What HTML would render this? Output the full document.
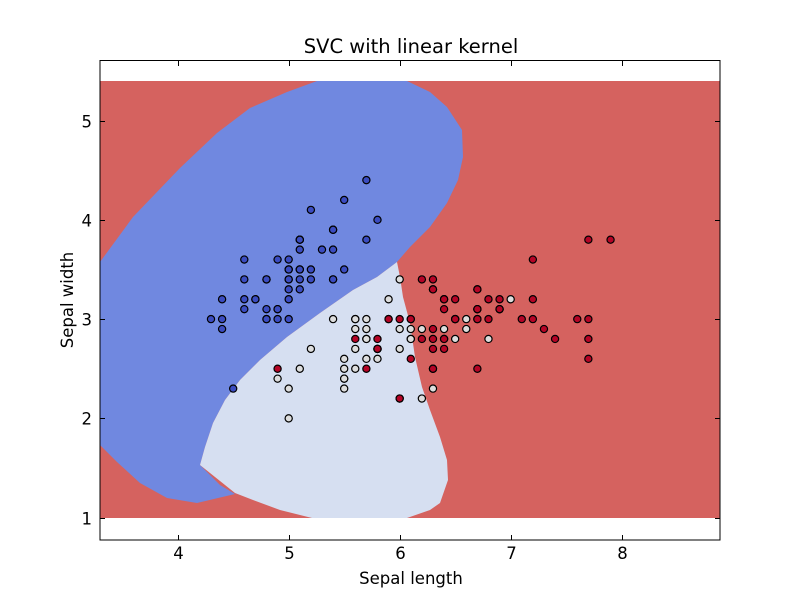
<!DOCTYPE html>
<html><head><meta charset="utf-8"><style>
body{margin:0;background:#fff}
svg text{font-family:"DejaVu Sans","Liberation Sans",sans-serif;fill:#000}
</style></head><body>
<svg id="chart" width="800" height="600" xmlns="http://www.w3.org/2000/svg">
<rect width="800" height="600" fill="#fff"/>
<g>
<rect x="100" y="81" width="620" height="437" fill="#d5625f"/>
<path fill="#7088e0" d="M317,81 L407,81 L430,92 L447,107 L462,130 L463,157 L458,180 L447,203 L430,227 L410,247 L397,262 L377,277 L353,290 L320,313 L287,337 L260,360 L240,380 L225,400 L213,423 L205,447 L200,465 L220,485 L235,494 L197,503 L167,498 L140,483 L117,462 L100,445 L100,262 L133,217 L180,168 L217,133 L250,108 L287,92 Z"/>
<path fill="#d6dff1" d="M397,262 L400,277 L403,297 L410,323 L415,357 L422,387 L430,410 L440,437 L447,460 L448,480 L440,503 L430,510 L407,518 L312,518 L280,510 L253,500 L235,493 L210,473 L200,465 L205,447 L213,423 L225,400 L240,380 L260,360 L287,337 L320,313 L353,290 L377,277 Z"/>
</g>
<g id="points"></g>
<rect x="100" y="60.5" width="620" height="479.5" fill="none" stroke="#000" stroke-width="1"/>
<g id="axes"></g>
<text x="411" y="53" font-size="19.5" text-anchor="middle">SVC with linear kernel</text>
<text x="411" y="584" font-size="16.5" text-anchor="middle">Sepal length</text>
<text x="73" y="300" font-size="16.5" text-anchor="middle" transform="rotate(-90 73 300)">Sepal width</text>
</svg>
<script>
const xTicks=[4,5,6,7,8];
const yTicks=[1,2,3,4,5];
const setosaX=[5.1,4.9,4.7,4.6,5.0,5.4,4.6,5.0,4.4,4.9,5.4,4.8,4.8,4.3,5.8,5.7,5.4,5.1,5.7,5.1,5.4,5.1,4.6,5.1,4.8,5.0,5.0,5.2,5.2,4.7,4.8,5.4,5.2,5.5,4.9,5.0,5.5,4.9,4.4,5.1,5.0,4.5,4.4,5.0,5.1,4.8,5.1,4.6,5.3,5.0];
const setosaY=[3.5,3.0,3.2,3.1,3.6,3.9,3.4,3.4,2.9,3.1,3.7,3.4,3.0,3.0,4.0,4.4,3.9,3.5,3.8,3.8,3.4,3.7,3.6,3.3,3.4,3.0,3.4,3.5,3.4,3.2,3.1,3.4,4.1,4.2,3.1,3.2,3.5,3.6,3.0,3.4,3.5,2.3,3.2,3.5,3.8,3.0,3.8,3.2,3.7,3.3];
const versicolorX=[7.0,6.4,6.9,5.5,6.5,5.7,6.3,4.9,6.6,5.2,5.0,5.9,6.0,6.1,5.6,6.7,5.6,5.8,6.2,5.6,5.9,6.1,6.3,6.1,6.4,6.6,6.8,6.7,6.0,5.7,5.5,5.5,5.8,6.0,5.4,6.0,6.7,6.3,5.6,5.5,5.5,6.1,5.8,5.0,5.6,5.7,5.7,6.2,5.1,5.7];
const versicolorY=[3.2,3.2,3.1,2.3,2.8,2.8,3.3,2.4,2.9,2.7,2.0,3.0,2.2,2.9,2.9,3.1,3.0,2.7,2.2,2.5,3.2,2.8,2.5,2.8,2.9,3.0,2.8,3.0,2.9,2.6,2.4,2.4,2.7,2.7,3.0,3.4,3.1,2.3,3.0,2.5,2.6,3.0,2.6,2.3,2.7,3.0,2.9,2.9,2.5,2.8];
const virginicaX=[6.3,5.8,7.1,6.3,6.5,7.6,4.9,7.3,6.7,7.2,6.5,6.4,6.8,5.7,5.8,6.4,6.5,7.7,7.7,6.0,6.9,5.6,7.7,6.3,6.7,7.2,6.2,6.1,6.4,7.2,7.4,7.9,6.4,6.3,6.1,7.7,6.3,6.4,6.0,6.9,6.7,6.9,5.8,6.8,6.7,6.7,6.3,6.5,6.2,5.9];
const virginicaY=[3.3,2.7,3.0,2.9,3.0,3.0,2.5,2.9,2.5,3.6,3.2,2.7,3.0,2.5,2.8,3.2,3.0,3.8,2.6,2.2,3.2,2.8,2.8,2.7,3.3,3.2,2.8,3.0,2.8,3.0,2.8,3.8,2.8,2.8,2.6,3.0,3.4,3.1,3.0,3.1,3.1,3.1,2.7,3.2,3.3,3.0,2.5,3.0,3.4,3.0];
const NS='http://www.w3.org/2000/svg';
const xMin=3.3,xMax=8.886,yMin=0.775,yMax=5.61;
function xs(v){return 100+(v-xMin)/(xMax-xMin)*620;}
function ys(v){return 540-(v-yMin)/(yMax-yMin)*480;}
const pg=document.getElementById('points');
function drawSeries(X,Y,color,name){
  for(let i=0;i<X.length;i++){
    const c=document.createElementNS(NS,'circle');
    c.setAttribute('cx',xs(X[i]));c.setAttribute('cy',ys(Y[i]));c.setAttribute('r',3.6);
    c.setAttribute('fill',color);c.setAttribute('stroke','#000');c.setAttribute('stroke-width',1.2);
    
    
    pg.appendChild(c);
  }
}
drawSeries(setosaX,setosaY,'#3b4cc0','setosa');
drawSeries(versicolorX,versicolorY,'#dddddd','versicolor');
drawSeries(virginicaX,virginicaY,'#b40426','virginica');
const ax=document.getElementById('axes');
function line(x1,y1,x2,y2){const l=document.createElementNS(NS,'line');l.setAttribute('x1',x1);l.setAttribute('y1',y1);l.setAttribute('x2',x2);l.setAttribute('y2',y2);l.setAttribute('stroke','#000');l.setAttribute('stroke-width',1);


ax.appendChild(l);}
xTicks.forEach(t=>{const x=Math.round(xs(t))+0.5;line(x,540,x,535);line(x,61,x,66);
 const tx=document.createElementNS(NS,'text');tx.setAttribute('x',x);tx.setAttribute('y',559);tx.setAttribute('font-size','16.5');tx.setAttribute('text-anchor','middle');tx.textContent=t;
 
 
 ax.appendChild(tx);});
yTicks.forEach(t=>{const y=Math.round(ys(t))+0.5;line(100,y,105,y);line(720,y,715,y);
 const tx=document.createElementNS(NS,'text');tx.setAttribute('x',92);tx.setAttribute('y',y+6);tx.setAttribute('font-size','16.5');tx.setAttribute('text-anchor','end');tx.textContent=t;
 
 
 ax.appendChild(tx);});
</script>
</body></html>
